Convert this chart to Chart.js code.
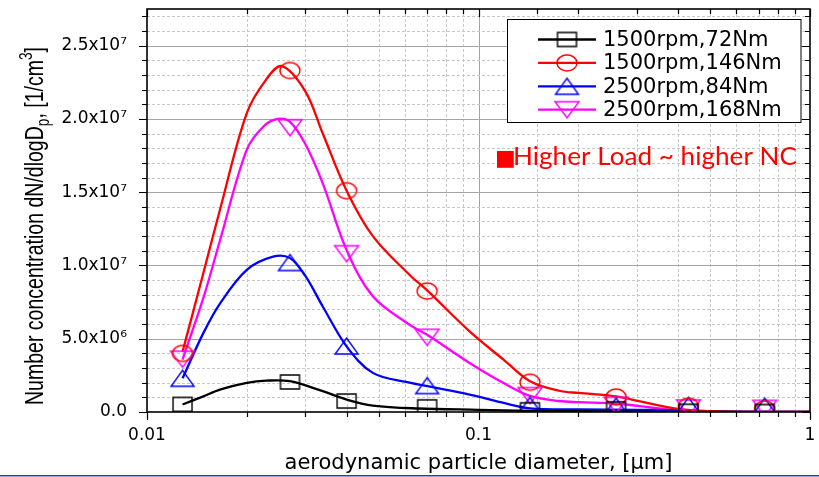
<!DOCTYPE html>
<html>
<head>
<meta charset="utf-8">
<title>Number concentration vs particle diameter</title>
<script src="https://cdn.jsdelivr.net/npm/chart.js@4.4.0/dist/chart.umd.min.js"></script>
<style>
  html, body { margin: 0; padding: 0; background: #fff; }
  #wrap { width: 819px; height: 477px; }
</style>
</head>
<body>
<div id="wrap"><canvas id="psdChart" width="819" height="477"></canvas></div>
<script>
// stage diameters [um]
const diameters = [0.0128, 0.027, 0.04, 0.07, 0.143, 0.26, 0.43, 0.73];

// measured number concentration dN/dlogDp [1/cm3]
const nc1500_72  = [0.52e6, 2.05e6, 0.75e6, 0.35e6, 0.15e6, 0.22e6, 0.05e6, 0.03e6];
const nc1500_146 = [4.0e6, 23.3e6, 15.1e6, 8.25e6, 2.03e6, 1.02e6, 0.4e6, 0.2e6];
const nc2500_84  = [2.3e6, 10.2e6, 4.5e6, 1.8e6, 0.46e6, 0.4e6, 0.45e6, 0.4e6];
const nc2500_168 = [3.6e6, 19.4e6, 10.8e6, 5.1e6, 1.12e6, 0.46e6, 0.28e6, 0.25e6];

// fitted curves
const fit72_x  = [0.0128, 0.0148, 0.0166, 0.02, 0.0229, 0.027, 0.0339, 0.04, 0.048, 0.066, 0.1, 0.143, 0.2, 0.3, 0.5, 1.0];
const fit72_y  = [0.51e6, 1.07e6, 1.53e6, 1.99e6, 2.14e6, 2.1e6, 1.42e6, 0.85e6, 0.44e6, 0.24e6, 0.15e6, 0.08e6, 0.05e6, 0.02e6, 0, 0];
const fit146_x = [0.0128, 0.0148, 0.0166, 0.02, 0.0229, 0.0255, 0.03, 0.0339, 0.04, 0.048, 0.062, 0.07, 0.094, 0.119, 0.143, 0.175, 0.2, 0.26, 0.31, 0.39, 0.5, 0.7, 1.0];
const fit146_y = [4.1e6, 9.5e6, 13.8e6, 20.4e6, 22.7e6, 23.6e6, 21.9e6, 19.0e6, 15.1e6, 12.0e6, 9.35e6, 8.3e6, 5.5e6, 3.57e6, 2.1e6, 1.45e6, 1.3e6, 1.07e6, 0.7e6, 0.25e6, 0.05e6, 0, 0];
const fit84_x  = [0.0128, 0.0148, 0.0166, 0.02, 0.024, 0.027, 0.03, 0.0339, 0.04, 0.048, 0.062, 0.07, 0.094, 0.12, 0.143, 0.2, 0.3, 0.4, 0.5, 0.7, 1.0];
const fit84_y  = [2.3e6, 5.4e6, 7.4e6, 9.7e6, 10.6e6, 10.5e6, 9.3e6, 7.2e6, 4.48e6, 2.67e6, 2.0e6, 1.76e6, 1.19e6, 0.6e6, 0.25e6, 0.18e6, 0.15e6, 0.12e6, 0.05e6, 0, 0];
const fit168_x = [0.0128, 0.0148, 0.0166, 0.02, 0.0225, 0.0248, 0.027, 0.03, 0.0339, 0.04, 0.048, 0.062, 0.07, 0.094, 0.119, 0.143, 0.175, 0.2, 0.26, 0.34, 0.43, 0.7, 1.0];
const fit168_y = [3.57e6, 7.8e6, 11.7e6, 17.9e6, 19.5e6, 20.0e6, 19.8e6, 18.3e6, 15.6e6, 11.05e6, 7.9e6, 5.95e6, 5.27e6, 3.35e6, 1.98e6, 1.1e6, 0.75e6, 0.67e6, 0.58e6, 0.28e6, 0.05e6, 0, 0];

// y axis: labelled ticks and the step of the minor ticks
const yLabelTicks = [0, 5e6, 1e7, 1.5e7, 2e7, 2.5e7];
const yMinorStep = 1e6;
const yMax = 2.75e7;

const seriesNames = ['1500rpm,72Nm', '1500rpm,146Nm', '2500rpm,84Nm', '2500rpm,168Nm'];
const seriesColors = ['#000000', '#ff0000', '#0000ff', '#ff00ff'];

// hollow markers, a bit wider than tall like in the original slide
function makeMarker(kind, w, h, color) {
  const c = document.createElement('canvas');
  c.width = Math.ceil(w + 4);
  c.height = Math.ceil(h + 4);
  const g = c.getContext('2d');
  const cx = c.width / 2, cy = c.height / 2;
  g.strokeStyle = color;
  g.lineWidth = 1.4;
  g.beginPath();
  if (kind === 'square') {
    g.rect(cx - w / 2, cy - h / 2, w, h);
  } else if (kind === 'circle') {
    g.ellipse(cx, cy, w / 2, h / 2, 0, 0, Math.PI * 2);
  } else if (kind === 'up') {
    g.moveTo(cx, cy - h / 2);
    g.lineTo(cx + w / 2, cy + h / 2);
    g.lineTo(cx - w / 2, cy + h / 2);
    g.closePath();
  } else {
    g.moveTo(cx - w / 2, cy - h / 2);
    g.lineTo(cx + w / 2, cy - h / 2);
    g.lineTo(cx, cy + h / 2);
    g.closePath();
  }
  g.stroke();
  return c;
}

const markers = [
  makeMarker('square', 19, 14, seriesColors[0]),
  makeMarker('circle', 20, 16, seriesColors[1]),
  makeMarker('up', 23, 16, seriesColors[2]),
  makeMarker('down', 24, 16, seriesColors[3])
];

const pts = (xs, ys) => xs.map((x, i) => ({ x: x, y: ys[i] }));
const measured = [nc1500_72, nc1500_146, nc2500_84, nc2500_168];
const fits = [[fit72_x, fit72_y], [fit146_x, fit146_y], [fit84_x, fit84_y], [fit168_x, fit168_y]];

const datasets = [];
measured.forEach((vals, i) => {
  datasets.push({
    type: 'scatter',
    label: seriesNames[i],
    data: pts(diameters, vals),
    pointStyle: markers[i],
    pointRadius: 8,
    showLine: false
  });
});
fits.forEach((f, i) => {
  datasets.push({
    type: 'line',
    label: seriesNames[i] + ' fit',
    data: pts(f[0], f[1]),
    borderColor: seriesColors[i],
    borderWidth: 2.3,
    pointRadius: 0,
    tension: 0.35,
    fill: false
  });
});

const SUP = { '0': '⁰', '1': '¹', '2': '²', '3': '³', '4': '⁴', '5': '⁵', '6': '⁶', '7': '⁷', '8': '⁸', '9': '⁹' };
function sciLabel(v) {
  if (v === 0) return '0.0';
  const e = Math.floor(Math.log10(v) + 1e-9);
  const m = v / Math.pow(10, e);
  return m.toFixed(1) + 'x10' + String(e).split('').map(d => SUP[d]).join('');
}
const isDecade = v => Math.abs(Math.log10(v) - Math.round(Math.log10(v))) < 1e-6;
const isYLabel = v => yLabelTicks.some(t => Math.abs(t - v) < 1);

// grid, frame, ticks, legend, texts
const decorPlugin = {
  id: 'decor',
  beforeDatasetsDraw(chart) {
    const { ctx, chartArea: a, scales: { x, y } } = chart;
    ctx.save();
    ctx.lineWidth = 1;
    x.ticks.forEach(t => {
      if (t.value <= 0.01 || t.value >= 1) return;
      const px = Math.round(x.getPixelForValue(t.value)) + 0.5;
      ctx.strokeStyle = isDecade(t.value) ? '#a3a3a3' : '#c8c8c8';
      ctx.setLineDash(isDecade(t.value) ? [] : [3, 2]);
      ctx.beginPath(); ctx.moveTo(px, a.top); ctx.lineTo(px, a.bottom); ctx.stroke();
    });
    y.ticks.forEach(t => {
      if (t.value <= 0) return;
      const major = isYLabel(t.value);
      const py = Math.round(y.getPixelForValue(t.value)) + 0.5;
      ctx.strokeStyle = major ? '#a3a3a3' : '#c8c8c8';
      ctx.setLineDash(major ? [] : [3, 2]);
      ctx.beginPath(); ctx.moveTo(a.left, py); ctx.lineTo(a.right, py); ctx.stroke();
    });
    ctx.restore();
  },
  afterDatasetsDraw(chart) {
    const { ctx, chartArea: a, scales: { x, y } } = chart;
    ctx.save();
    ctx.strokeStyle = '#000';
    ctx.lineWidth = 1.2;
    y.ticks.forEach(t => {
      const len = isYLabel(t.value) ? 8 : 5;
      const py = Math.round(y.getPixelForValue(t.value)) + 0.5;
      ctx.beginPath();
      ctx.moveTo(a.left - len, py); ctx.lineTo(a.left, py);
      ctx.moveTo(a.right - len, py); ctx.lineTo(a.right, py);
      ctx.stroke();
    });
    x.ticks.forEach(t => {
      const len = isDecade(t.value) ? 8 : 5;
      const px = Math.round(x.getPixelForValue(t.value)) + 0.5;
      ctx.beginPath();
      ctx.moveTo(px, a.bottom); ctx.lineTo(px, a.bottom + len);
      ctx.moveTo(px, a.top); ctx.lineTo(px, a.top + len);
      ctx.stroke();
    });
    ctx.lineWidth = 1.6;
    ctx.strokeRect(a.left, a.top, a.right - a.left, a.bottom - a.top);
    ctx.restore();
  },
  afterDraw(chart) {
    const ctx = chart.ctx;
    ctx.save();

    // legend box
    ctx.fillStyle = '#fff';
    ctx.fillRect(507.5, 19.5, 293.5, 103);
    ctx.strokeStyle = '#000';
    ctx.lineWidth = 1;
    ctx.strokeRect(507.5, 19.5, 293.5, 103);
    ctx.font = '21px "DejaVu Sans"';
    ctx.textBaseline = 'alphabetic';
    ctx.textAlign = 'left';
    seriesNames.forEach((name, i) => {
      const ly = 39.5 + i * 23.4;
      ctx.strokeStyle = seriesColors[i];
      ctx.lineWidth = 2.3;
      ctx.beginPath(); ctx.moveTo(538, ly); ctx.lineTo(596, ly); ctx.stroke();
      const m = markers[i];
      ctx.drawImage(m, 567 - m.width / 2, ly - m.height / 2);
      ctx.fillStyle = '#000';
      ctx.fillText(name, 603, ly + 6.5);
    });

    // red note
    ctx.fillStyle = '#ff0000';
    ctx.font = '22px "DejaVu Sans"';
    ctx.fillText('■', 495, 165);
    ctx.font = '25px Lato';
    const note = 'Higher Load ~ higher NC';
    const nw = ctx.measureText(note).width;
    ctx.save();
    ctx.translate(513, 165);
    ctx.scale(284 / nw, 1);
    ctx.fillText(note, 0, 0);
    ctx.restore();

    // y axis title with sub/superscript
    const f = 19;
    const pieces = [
      { t: 'Number concentration dN/dlogD', s: 1, dy: 0 },
      { t: 'p', s: 0.7, dy: 0.25 },
      { t: ', [1/cm', s: 1, dy: 0 },
      { t: '3', s: 0.7, dy: -0.42 },
      { t: ']', s: 1, dy: 0 }
    ];
    let total = 0;
    pieces.forEach(p => {
      ctx.font = (f * p.s) + 'px "Liberation Sans"';
      p.w = ctx.measureText(p.t).width;
      total += p.w;
    });
    ctx.translate(43, 226);
    ctx.rotate(-Math.PI / 2);
    ctx.scale(358 / total, 1.32);
    ctx.fillStyle = '#000';
    let cx = -total / 2;
    pieces.forEach(p => {
      ctx.font = (f * p.s) + 'px "Liberation Sans"';
      ctx.fillText(p.t, cx, p.dy * f);
      cx += p.w;
    });
    ctx.restore();

    // slide edge line
    ctx.save();
    ctx.strokeStyle = '#1a3cf5';
    ctx.lineWidth = 1.5;
    ctx.beginPath(); ctx.moveTo(0, 475.75); ctx.lineTo(819, 475.75); ctx.stroke();
    ctx.restore();
  }
};

const ctx = document.getElementById('psdChart').getContext('2d');
new Chart(ctx, {
  data: { datasets: datasets },
  options: {
    responsive: false,
    animation: false,
    events: [],
    layout: { padding: { top: 8, right: 8, left: 0, bottom: 0 } },
    plugins: { legend: { display: false }, tooltip: { enabled: false } },
    scales: {
      x: {
        type: 'logarithmic',
        min: 0.01,
        max: 1,
        grid: { display: false },
        border: { display: false },
        ticks: {
          autoSkip: false,
          maxRotation: 0,
          padding: 5,
          color: '#000',
          font: { family: 'DejaVu Sans', size: 17 },
          callback: v => isDecade(v) ? String(+v.toPrecision(2)) : ''
        },
        title: {
          display: true,
          text: 'aerodynamic particle diameter, [μm]',
          color: '#000',
          font: { family: 'DejaVu Sans', size: 21, lineHeight: 1 },
          padding: { top: 0, bottom: 3 }
        },
        afterFit: s => { s.height = 65; s.paddingLeft = 0; s.paddingRight = 0; }
      },
      y: {
        type: 'linear',
        min: 0,
        max: yMax,
        grid: { display: false },
        border: { display: false },
        ticks: {
          autoSkip: false,
          padding: 12,
          color: '#000',
          font: { family: 'DejaVu Sans', size: 17 },
          callback: v => isYLabel(v) ? sciLabel(v) : ''
        },
        afterBuildTicks: s => {
          const list = [];
          for (let v = 0; v < yMax; v += yMinorStep) list.push({ value: v });
          s.ticks = list;
        },
        afterFit: s => { s.width = 147; s.paddingTop = 0; s.paddingBottom = 0; }
      }
    }
  },
  plugins: [decorPlugin]
});
</script>
</body>
</html>
